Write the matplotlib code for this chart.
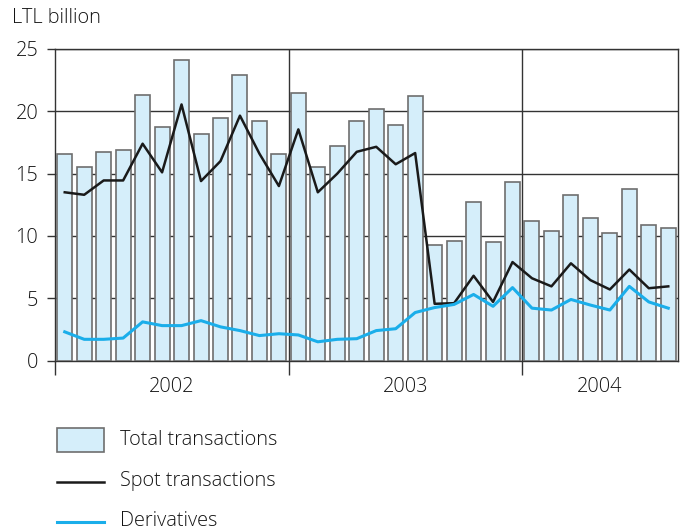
import matplotlib
matplotlib.use("Agg")
import matplotlib.pyplot as plt
import numpy as np
from matplotlib.patches import Rectangle
from matplotlib.lines import Line2D

plt.rcParams['font.family'] = ['Open Sans', 'DejaVu Sans']
plt.rcParams['font.weight'] = 'light'

years = ["2002", "2003", "2004"]
months_per_year = [12, 12, 8]

total = [16.6, 15.5, 16.7, 16.9, 21.3, 18.7, 24.1, 18.2, 19.5, 22.9, 19.2, 16.6,
         21.5, 15.5, 17.2, 19.2, 20.2, 18.9, 21.2, 9.3, 9.6, 12.7, 9.5, 14.3,
         11.2, 10.4, 13.3, 11.4, 10.2, 13.8, 10.9, 10.65]
spot = [13.5, 13.3, 14.45, 14.45, 17.4, 15.1, 20.55, 14.4, 16.0, 19.65, 16.6, 14.0,
        18.55, 13.5, 15.0, 16.75, 17.15, 15.75, 16.65, 4.55, 4.6, 6.8, 4.7, 7.9,
        6.6, 5.95, 7.8, 6.45, 5.7, 7.3, 5.8, 5.95]
deriv = [2.3, 1.7, 1.7, 1.8, 3.1, 2.8, 2.8, 3.2, 2.7, 2.4, 2.0, 2.15,
         2.05, 1.5, 1.7, 1.75, 2.4, 2.55, 3.85, 4.25, 4.5, 5.3, 4.35, 5.85,
         4.2, 4.05, 4.9, 4.45, 4.05, 5.95, 4.7, 4.2]

bar_color = '#d5eefa'
edge_color = '#6e6e6e'
spot_color = '#1a1a1a'
deriv_color = '#1aaeea'
grid_color = '#333333'
text_color = '#141414'
fs = 14.3

fig = plt.figure(figsize=(6.94, 5.31), dpi=100)
ax = fig.add_axes([55/694, 1-360.5/531, (678-55)/694, (360.5-49)/531])

x = np.arange(len(total))
ax.bar(x, total, width=0.77, color=bar_color, edgecolor=edge_color, linewidth=1.2, zorder=3)
ax.plot(x, spot, color=spot_color, linewidth=1.8, zorder=4)
ax.plot(x, deriv, color=deriv_color, linewidth=2.2, zorder=4)

ax.set_xlim(-0.5, len(total) - 0.5)
ax.set_ylim(0, 25)
ax.set_yticks([0, 5, 10, 15, 20, 25])
ax.yaxis.grid(True, color=grid_color, linewidth=1.0, zorder=1)
ax.tick_params(axis='y', length=6, width=1.0, color=grid_color, pad=6, labelsize=fs, labelcolor=text_color)

bounds = np.cumsum([0] + months_per_year) - 0.5
centers = [(bounds[i] + bounds[i+1]) / 2 for i in range(len(years))]
ax.set_xticks(bounds[:-1])
ax.set_xticklabels([])
ax.tick_params(axis='x', which='major', length=10, width=1.0, color=grid_color)
ax.set_xticks(centers, minor=True)
ax.set_xticklabels(years, minor=True)
ax.tick_params(axis='x', which='minor', length=0, pad=12, labelsize=fs, labelcolor=text_color)
for b in bounds[1:-1]:
    ax.axvline(b, color=grid_color, linewidth=1.0, zorder=2)

for s in ax.spines.values():
    s.set_color(grid_color)
    s.set_linewidth(1.0)

fig.text(12/694, 1-18/531, "LTL billion", fontsize=fs, va='center', ha='left', color=text_color)

# legend
fig.patches.append(Rectangle((57/694, 1-452/531), 47/694, 24/531, transform=fig.transFigure,
                             facecolor=bar_color, edgecolor=edge_color, linewidth=1.2))
fig.text(120/694, 1-440/531, "Total transactions", fontsize=fs, va='center', ha='left', color=text_color)
fig.lines.append(Line2D([57/694, 104/694], [1-482/531, 1-482/531], transform=fig.transFigure,
                        color=spot_color, linewidth=1.8))
fig.text(120/694, 1-481/531, "Spot transactions", fontsize=fs, va='center', ha='left', color=text_color)
fig.lines.append(Line2D([57/694, 104/694], [1-522/531, 1-522/531], transform=fig.transFigure,
                        color=deriv_color, linewidth=2.2))
fig.text(120/694, 1-521/531, "Derivatives", fontsize=fs, va='center', ha='left', color=text_color)

fig.savefig("out.png", dpi=100)
